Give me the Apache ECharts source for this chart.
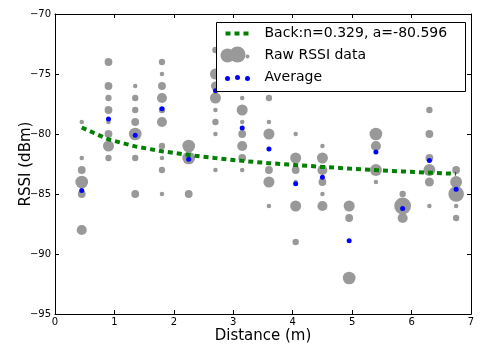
<!DOCTYPE html>
<html><head><meta charset="utf-8">
<script src="https://cdn.jsdelivr.net/npm/echarts@6/dist/echarts.min.js"></script>
<style>html,body{margin:0;padding:0;background:#fff}#c{width:491px;height:346px}</style>
</head><body><div id="c"></div>
<script>
// Distances (m)
const distances = [0.45, 0.9, 1.35, 1.8, 2.25, 2.7, 3.15, 3.6, 4.05, 4.5, 4.95, 5.4, 5.85, 6.3, 6.75];
// Raw RSSI values per distance and how many times each occurred (bubble size)
const rawRssi = [
  [-79, -82, -83, -84, -85, -88],
  [-74, -76, -77, -78, -79, -80, -81, -82],
  [-76, -77, -78, -79, -80, -82, -85],
  [-74, -75, -76, -77, -78, -79, -81, -82, -83, -85],
  [-81, -82, -85],
  [-73, -75, -76, -77, -78, -79, -80, -83],
  [-74, -76, -77, -78, -79, -80, -81, -82, -83],
  [-77, -79, -80, -83, -84, -86],
  [-80, -82, -83, -84, -86, -89],
  [-81, -82, -83, -84, -85, -86],
  [-86, -87, -92],
  [-80, -81, -83, -84],
  [-85, -86, -87],
  [-78, -80, -82, -83, -84, -86],
  [-83, -84, -85, -86, -87]
];
const rawCount = [
  [1, 1, 3, 8, 3, 5],
  [3, 3, 2, 3, 1, 3, 6, 2],
  [1, 2, 2, 3, 8, 2, 3],
  [2, 1, 3, 5, 2, 5, 2, 1, 2, 1],
  [8, 8, 3],
  [2, 6, 4, 6, 1, 2, 1, 1],
  [3, 2, 1, 6, 1, 3, 5, 3, 1],
  [2, 1, 6, 3, 6, 1],
  [1, 6, 3, 1, 6, 2],
  [1, 6, 5, 3, 1, 5],
  [6, 3, 8],
  [8, 5, 7, 1],
  [2, 14, 5],
  [2, 3, 3, 7, 4, 1],
  [3, 7, 12, 1, 2]
];
// Average RSSI per distance
const avgRssi = [-84.7, -78.75, -80.1, -77.9, -82.1, -76.4, -79.5, -81.25, -84.15, -83.6, -88.9, -81.5, -86.2, -82.2, -84.6];
// Fitted back-model curve read at each distance
const fitRssi = [-79.46, -80.45, -81.03, -81.44, -81.75, -82.01, -82.24, -82.43, -82.59, -82.74, -82.88, -83.01, -83.12, -83.22, -83.32];
const xTicks = [0, 1, 2, 3, 4, 5, 6, 7];
const yTicks = [-95, -90, -85, -80, -75, -70];
const legendLabels = ['Back:n=0.329, a=-80.596', 'Raw RSSI data', 'Average'];

const rawData = [];
distances.forEach((d, i) => rawRssi[i].forEach((r, j) => rawData.push([d, r, rawCount[i][j]])));
const avgData = distances.map((d, i) => [d, avgRssi[i]]);
const fitData = distances.map((d, i) => [d, fitRssi[i]]);

const font = 'DejaVu Sans';
const minus = v => (v < 0 ? '\u2212' + Math.abs(v) : String(v));
const axCommon = {
  axisLine: {show: true, onZero: false, lineStyle: {color: '#000', width: 1}},
  axisTick: {show: true, inside: true, length: 4, lineStyle: {color: '#000'}},
  splitLine: {show: false}
};
const LZ = 100;
const chart = echarts.init(document.getElementById('c'), null, {renderer: 'canvas'});
chart.setOption({
  animation: false,
  backgroundColor: '#fff',
  grid: {left: 55, right: 20, top: 14, bottom: 32, containLabel: false, outerBoundsMode: 'none'},
  xAxis: [
    Object.assign({type: 'value', min: xTicks[0], max: xTicks[xTicks.length - 1], interval: 1, position: 'bottom',
      name: 'Distance (m)', nameLocation: 'middle', nameGap: 15, nameMoveOverlap: false,
      nameTextStyle: {fontFamily: font, fontSize: 15, color: '#000'},
      axisLabel: {fontFamily: font, fontSize: 10, color: '#000', margin: 3, formatter: minus}}, axCommon),
    Object.assign({type: 'value', min: xTicks[0], max: xTicks[xTicks.length - 1], interval: 1, position: 'top',
      axisLabel: {show: false}}, axCommon)
  ],
  yAxis: [
    Object.assign({type: 'value', min: yTicks[0], max: yTicks[yTicks.length - 1], interval: 5, position: 'left',
      name: 'RSSI (dBm)', nameLocation: 'middle', nameGap: 21, nameMoveOverlap: false,
      nameTextStyle: {fontFamily: font, fontSize: 15, color: '#000'},
      axisLabel: {fontFamily: font, fontSize: 10, color: '#000', margin: 4, formatter: minus}}, axCommon),
    Object.assign({type: 'value', min: yTicks[0], max: yTicks[yTicks.length - 1], interval: 5, position: 'right',
      axisLabel: {show: false}}, axCommon)
  ],
  series: [
    {name: legendLabels[1], type: 'scatter', data: rawData, z: 2,
     symbolSize: v => 4.5 * Math.sqrt(v[2]),
     itemStyle: {color: '#999999', opacity: 1}},
    {name: legendLabels[0], type: 'line', data: fitData, z: 3, showSymbol: false, symbol: 'none',
     lineStyle: {color: '#008000', width: 4, type: [5, 4], cap: 'butt'}},
    {name: legendLabels[2], type: 'scatter', data: avgData, z: 4, symbolSize: 5,
     itemStyle: {color: '#0000ff', opacity: 1}}
  ],
  graphic: [{
    type: 'group', left: 216, top: 22, z: LZ,
    children: [
      {type: 'rect', z: LZ, shape: {x: 0, y: 0, width: 249, height: 69}, style: {fill: '#fff', stroke: '#000', lineWidth: 1}},
      {type: 'line', z: LZ + 1, shape: {x1: 9, y1: 11, x2: 34, y2: 11}, style: {stroke: '#008000', lineWidth: 4, lineDash: [5, 4], lineCap: 'butt'}},
      {type: 'circle', z: LZ + 1, shape: {cx: 11, cy: 33, r: 7}, style: {fill: '#999999'}},
      {type: 'circle', z: LZ + 1, shape: {cx: 21, cy: 32, r: 8}, style: {fill: '#999999'}},
      {type: 'circle', z: LZ + 1, shape: {cx: 31, cy: 34, r: 2}, style: {fill: '#999999'}},
      {type: 'circle', z: LZ + 1, shape: {cx: 11, cy: 56, r: 2.5}, style: {fill: '#0000ff'}},
      {type: 'circle', z: LZ + 1, shape: {cx: 21, cy: 55, r: 2.5}, style: {fill: '#0000ff'}},
      {type: 'circle', z: LZ + 1, shape: {cx: 31, cy: 56, r: 2.5}, style: {fill: '#0000ff'}},
      {type: 'text', z: LZ + 1, x: 48, y: 11, style: {text: legendLabels[0], font: '14px "DejaVu Sans"', fill: '#000', verticalAlign: 'middle'}},
      {type: 'text', z: LZ + 1, x: 48, y: 33, style: {text: legendLabels[1], font: '14px "DejaVu Sans"', fill: '#000', verticalAlign: 'middle'}},
      {type: 'text', z: LZ + 1, x: 48, y: 55, style: {text: legendLabels[2], font: '14px "DejaVu Sans"', fill: '#000', verticalAlign: 'middle'}}
    ]
  }]
});
</script></body></html>
